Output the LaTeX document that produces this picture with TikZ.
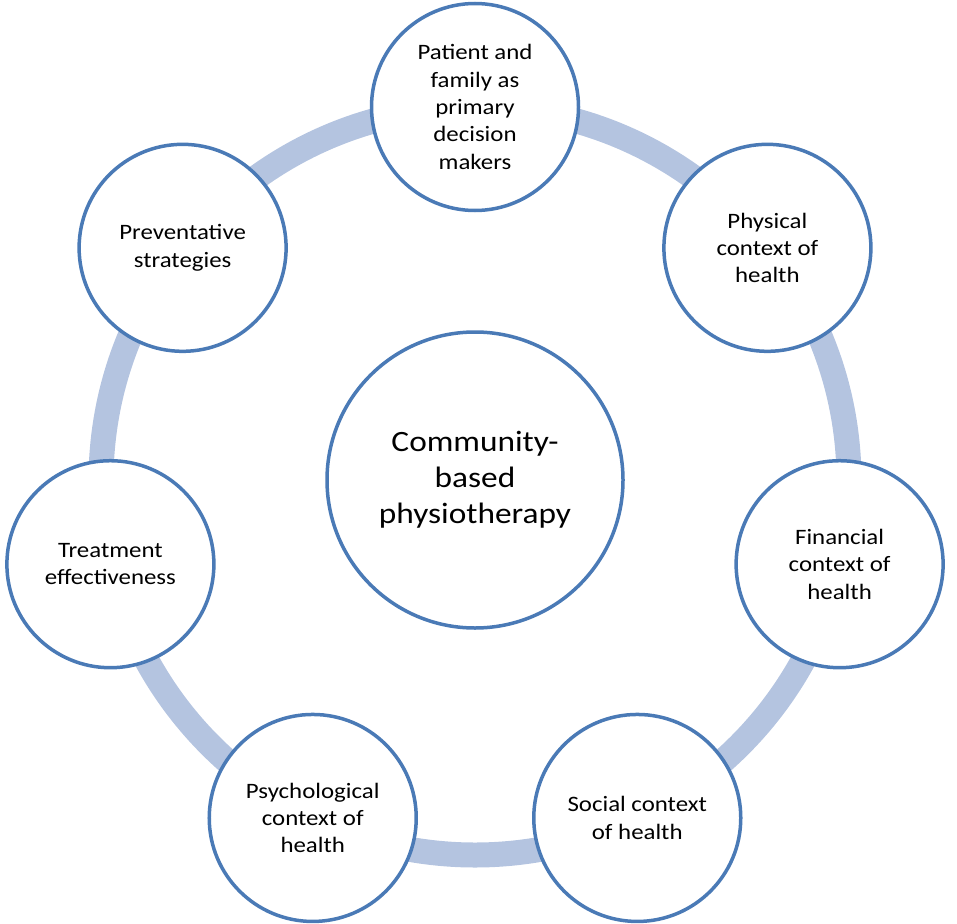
\documentclass[tikz,border=0pt]{standalone}
\usepackage{fontspec}
\setmainfont{Carlito}[FakeStretch=1.13]
\definecolor{ringcol}{RGB}{180,196,224}
\definecolor{edgecol}{RGB}{74,122,182}
\tikzset{
  outer/.style={circle, draw=edgecol, line width=3.5pt, fill=white, inner sep=0pt,
    minimum size=207pt, align=center, font=\fontsize{22}{27.3}\selectfont},
  inner/.style={circle, draw=edgecol, line width=3.5pt, fill=white, inner sep=0pt,
    minimum size=296pt, align=center, font=\fontsize{29.5}{36}\selectfont},
  ring/.style={draw=ringcol, line width=25pt}
}
\begin{document}
\begin{tikzpicture}[x=1pt,y=1pt]
\useasboundingbox (0,0) rectangle (957,-923);
\coordinate (O) at (475,-481);
\begin{scope}[shift={(475,-481)}]
  \draw[ring] (0,0) circle[radius=374];
  \node[outer] (patient) at (90:374) {Patient and\\family as\\primary\\decision\\makers};
  \node[outer] (physical) at (38.571:374) {Physical\\context of\\health};
  \node[outer] (financial) at (-12.857:374) {Financial\\context of\\health};
  \node[outer] (social) at (-64.286:374) {Social context\\of health};
  \node[outer] (psych) at (-115.714:374) {Psychological\\context of\\health};
  \node[outer] (treat) at (-167.143:374) {Treatment\\effectiveness};
  \node[outer] (prev) at (141.429:374) {Preventative\\strategies};
  \node[inner] (center) at (0,1) {Community-\\based\\physiotherapy};
\end{scope}
\end{tikzpicture}
\end{document}
